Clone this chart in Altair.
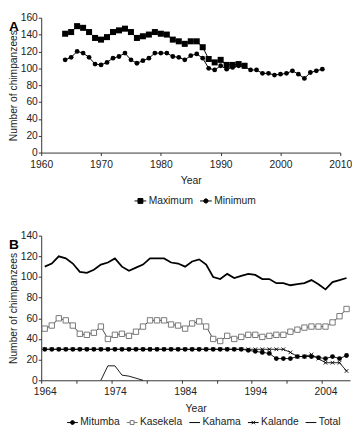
import altair as alt
import pandas as pd

FONT = "Liberation Sans"

# ---------- data ----------
years = list(range(1964, 2008))
max_years = list(range(1964, 1995))
maximum = [141, 143, 150, 148, 143, 136, 134, 137, 143, 145, 147, 143, 136, 138, 140,
           143, 141, 140, 134, 132, 129, 132, 132, 125, 111, 107, 110, 104, 104, 105, 103]
minimum = [110, 113, 120, 118, 113, 105, 104, 107, 112, 114, 118, 110, 106, 109, 112,
           118, 118, 118, 114, 113, 110, 115, 117, 112, 100, 98, 103, 99, 101, 103,
           102, 98, 98, 94, 94, 92, 93, 94, 97, 93, 88, 95, 97, 99]

mitumba = [30, 30, 30, 30, 30, 30, 30, 30, 30, 30, 30, 30, 30, 30, 30, 30, 30, 30, 30, 30,
           30, 30, 30, 30, 30, 30, 30, 30, 30, 29, 28, 27, 26, 21, 21, 21, 23, 23, 23, 22,
           21, 23, 21, 24]
kasekela = [50, 53, 60, 58, 53, 45, 44, 46, 52, 40, 44, 45, 43, 47, 52, 58, 58, 58, 54, 53,
            50, 55, 57, 52, 40, 38, 43, 40, 42, 44, 44, 42, 43, 44, 44, 47, 49, 51, 52, 52,
            52, 56, 62, 69]
kahama_years = [1972, 1973, 1974, 1975, 1976, 1977, 1978]
kahama = [0, 14, 14, 5, 4, 2, 0]
kalande = [30, 30, 30, 30, 30, 30, 30, 30, 30, 30, 30, 30, 30, 30, 30, 30, 30, 30, 30, 30,
           30, 30, 30, 30, 30, 30, 30, 30, 30, 30, 30, 30, 30, 30, 30, 27, 23, 23, 25, 21,
           17, 17, 17, 9]
total = [110, 113, 120, 118, 113, 105, 104, 107, 112, 114, 118, 110, 106, 109, 112,
         118, 118, 118, 114, 113, 110, 115, 117, 112, 100, 98, 103, 99, 101, 103,
         102, 98, 98, 94, 94, 92, 93, 94, 97, 93, 88, 95, 97, 99]

a_series = ["Maximum", "Minimum"]
b_series = ["Mitumba", "Kasekela", "Kahama", "Kalande", "Total"]
a_ticks = [1960, 1970, 1980, 1990, 2000, 2010]
a_yticks = [0, 20, 40, 60, 80, 100, 120, 140, 160]
b_yticks = [0, 20, 40, 60, 80, 100, 120, 140]
b_tickpos = [1963.5, 1968.5, 1973.5, 1978.5, 1983.5, 1988.5, 1993.5, 1998.5, 2003.5]

# ---------- tables ----------
dfa = pd.DataFrame({
    "Year": max_years + years,
    "Value": maximum + minimum,
    "Series": ["Maximum"] * len(max_years) + ["Minimum"] * len(years),
})
dfb = pd.DataFrame({
    "Year": years * 4 + kahama_years,
    "Value": mitumba + kasekela + kalande + total + kahama,
    "Series": ["Mitumba"] * 44 + ["Kasekela"] * 44 + ["Kalande"] * 44 + ["Total"] * 44
              + ["Kahama"] * len(kahama_years),
})

SQ = "M-1,0H-0.42M0.42,0H1M-0.42,-0.42H0.42V0.42H-0.42Z"
CI = "M-1,0H1M-0.36,0A0.36,0.36 0 1,1 0.36,0A0.36,0.36 0 1,1 -0.36,0Z"
OSQ = "M-1,0H-0.36M0.36,0H1M-0.36,-0.36H0.36V0.36H-0.36Z"
LN = "M-1,0H1"
XL = "M-1,0H1M-0.32,-0.32L0.32,0.32M-0.32,0.32L0.32,-0.32"
TK = "M-1,-0.09H1V0.09H-1Z"
XMARK = "M-1,-1L1,1M-1,1L1,-1"

TXT = "#222222"


def legend_spec(size, lx, ly):
    return alt.Legend(title=None, orient="none", legendX=lx, legendY=ly,
                      direction="horizontal",
                      labelFont=FONT, labelFontSize=10.5, labelColor=TXT,
                      symbolSize=size, symbolStrokeWidth=1, symbolOpacity=1,
                      columnPadding=4, labelOffset=2, padding=0)


def yaxis(vals):
    return alt.Axis(values=vals, title="Number of chimpanzees",
                    titlePadding=2, labelPadding=1, titleFontSize=10.5)


# ---------- panel A ----------
xA = alt.X("Year:Q", scale=alt.Scale(domain=[1960, 2010], nice=False, zero=False),
           axis=alt.Axis(values=a_ticks, format="d", title="Year", labelFlush=False,
                         titlePadding=6, labelPadding=4))
yA = alt.Y("Value:Q", scale=alt.Scale(domain=[0, 160], nice=False), axis=yaxis(a_yticks))

baseA = alt.Chart(dfa)
maxline = baseA.transform_filter("datum.Series == 'Maximum'").mark_line(
    color="black", strokeWidth=1).encode(x=xA, y=yA)
maxpts = baseA.transform_filter("datum.Series == 'Maximum'").mark_point(
    shape="square", filled=True, color="black", size=38, opacity=1).encode(x=xA, y=yA)
minline = baseA.transform_filter("datum.Series == 'Minimum'").mark_line(
    color="black", strokeWidth=1).encode(x=xA, y=yA)
minpts = baseA.transform_filter("datum.Series == 'Minimum'").mark_point(
    shape="circle", filled=True, color="black", size=24, opacity=1).encode(x=xA, y=yA)

LA = legend_spec(144, 95, 181)
legA = baseA.transform_filter("false").mark_point(filled=True, opacity=1).encode(
    x=xA, y=yA,
    shape=alt.Shape("Series:N", scale=alt.Scale(domain=a_series, range=[SQ, CI]), legend=LA),
    fill=alt.Fill("Series:N", scale=alt.Scale(domain=a_series, range=["black", "black"]), legend=LA),
    stroke=alt.Stroke("Series:N", scale=alt.Scale(domain=a_series, range=["black", "black"]), legend=LA),
)

chartA = alt.layer(maxline, minline, maxpts, minpts, legA).properties(
    width=306, height=138,
    title=alt.TitleParams("A", anchor="start", frame="group", orient="top",
                          dx=-33, dy=22, offset=0, font=FONT, fontSize=14,
                          fontWeight="bold", color="black"),
)

# ---------- panel B ----------
xB = alt.X("Year:Q", scale=alt.Scale(domain=[1963.5, 2007.5], nice=False, zero=False),
           axis=alt.Axis(values=b_tickpos, title="Year", labelFlush=False,
                         labelExpr="(datum.value - 1963.5) % 10 == 0 ? format(datum.value + 0.5, 'd') : ''",
                         labelOffset=3.6, labelOverlap=False,
                         titlePadding=6, labelPadding=4))
yB = alt.Y("Value:Q", scale=alt.Scale(domain=[0, 140], nice=False), axis=yaxis(b_yticks))

baseB = alt.Chart(dfb)


def flt(name):
    return baseB.transform_filter(f"datum.Series == '{name}'")


kal_line = flt("Kalande").mark_line(color="black", strokeWidth=0.9).encode(x=xB, y=yB)
kal_pts = flt("Kalande").mark_point(shape=XMARK, filled=False, color="black",
                                     strokeWidth=0.9, size=14, opacity=1).encode(x=xB, y=yB)
mit_line = flt("Mitumba").mark_line(color="black", strokeWidth=0.9).encode(x=xB, y=yB)
mit_pts = flt("Mitumba").mark_point(shape="circle", filled=True, color="black",
                                     size=24, opacity=1).encode(x=xB, y=yB)
kas_line = flt("Kasekela").mark_line(color="#333333", strokeWidth=0.9).encode(x=xB, y=yB)
kas_pts = flt("Kasekela").mark_point(shape="square", filled=True, fill="white",
                                      stroke="#777777", strokeWidth=1, size=30,
                                      opacity=1).encode(x=xB, y=yB)
kah_line = flt("Kahama").mark_line(color="black", strokeWidth=0.9).encode(x=xB, y=yB)
tot_line = flt("Total").mark_line(color="black", strokeWidth=1.8).encode(x=xB, y=yB)

LB = legend_spec(121, 26, 185)
legB = baseB.transform_filter("false").mark_point(filled=True, opacity=1).encode(
    x=xB, y=yB,
    shape=alt.Shape("Series:N", scale=alt.Scale(domain=b_series, range=[CI, OSQ, LN, XL, TK]), legend=LB),
    fill=alt.Fill("Series:N", scale=alt.Scale(domain=b_series,
                                              range=["black", "white", "transparent", "transparent", "black"]),
                  legend=LB),
    stroke=alt.Stroke("Series:N", scale=alt.Scale(domain=b_series,
                                                  range=["black", "#777777", "black", "black", "transparent"]),
                      legend=LB),
)

chartB = alt.layer(kal_line, kal_pts, mit_line, mit_pts, kas_line, kas_pts,
                   kah_line, tot_line, legB).properties(
    width=316, height=148,
    title=alt.TitleParams("B", anchor="start", frame="group", orient="top",
                          dx=-33, dy=22, offset=0, font=FONT, fontSize=14,
                          fontWeight="bold", color="black"),
)

chart = alt.vconcat(chartA, chartB, spacing=25).resolve_scale(
    shape="independent", fill="independent", stroke="independent", x="independent", y="independent"
).properties(padding=0).configure_view(stroke=None).configure_axis(
    labelFont=FONT, titleFont=FONT, labelFontSize=10.5, titleFontSize=10.7,
    titleFontWeight="normal", labelColor=TXT, titleColor=TXT,
    domainColor="#333333", tickColor="#333333", grid=False, tickSize=3,
    domainWidth=1, tickWidth=1,
)

chart.save("out.html", embed_options={"renderer": "svg", "actions": False})
